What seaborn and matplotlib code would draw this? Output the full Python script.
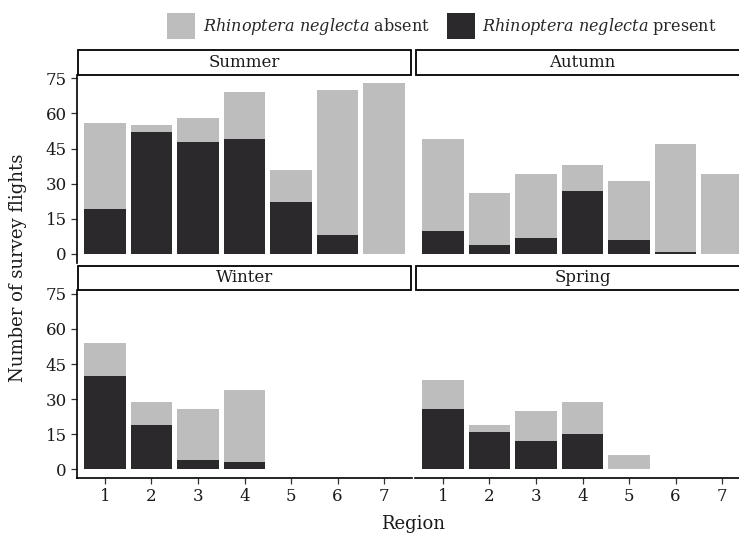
import numpy as np
import pandas as pd
import matplotlib
matplotlib.use("Agg")
import matplotlib.pyplot as plt
from matplotlib.patches import Rectangle, Patch
import seaborn as sns

# Survey flights per region and season
regions = [1, 2, 3, 4, 5, 6, 7]
seasons = ["Summer", "Autumn", "Winter", "Spring"]
total_flights = {
    "Summer": [56, 55, 58, 69, 36, 70, 73],
    "Autumn": [49, 26, 34, 38, 31, 47, 34],
    "Winter": [54, 29, 26, 34, 0, 0, 0],
    "Spring": [38, 19, 25, 29, 6, 0, 0],
}
present_flights = {
    "Summer": [19, 52, 48, 49, 22, 8, 0],
    "Autumn": [10, 4, 7, 27, 6, 1, 0],
    "Winter": [40, 19, 4, 3, 0, 0, 0],
    "Spring": [26, 16, 12, 15, 0, 0, 0],
}
y_ticks = [0, 15, 30, 45, 60, 75]

rows = []
for s in seasons:
    for r, t, p in zip(regions, total_flights[s], present_flights[s]):
        rows.append({"season": s, "region": r, "total": t, "present": p})
df = pd.DataFrame(rows)

sns.set_theme(style="white")
plt.rcParams["font.family"] = ["DejaVu Serif"]
plt.rcParams["mathtext.fontset"] = "custom"
plt.rcParams["mathtext.it"] = "DejaVu Serif:italic"
plt.rcParams["mathtext.rm"] = "DejaVu Serif"

LIGHT = "#BEBDBE"
DARK = "#2B292C"

W, H = 739, 536
fig = plt.figure(figsize=(W / 100, H / 100), dpi=100)

def fx(px):
    return px / W

def fy(px):
    return 1 - px / H

# panel boxes in pixels: (left, top, right, bottom)
panel_px = {
    "Summer": (77, 74.5, 412, 262.5),
    "Autumn": (415, 74.5, 750, 262.5),
    "Winter": (77, 290, 412, 478),
    "Spring": (415, 290, 750, 478),
}
strip_h = 24

for s in seasons:
    l, t, r, b = panel_px[s]
    ax = fig.add_axes([fx(l), fy(b), fx(r - l), (b - t) / H])
    sub = df[df["season"] == s]
    tot = sub[sub["total"] > 0]
    pre = sub[sub["present"] > 0]
    sns.barplot(data=tot, x="region", y="total", color=LIGHT, saturation=1,
                width=0.9, native_scale=True, errorbar=None, linewidth=0, ax=ax)
    sns.barplot(data=pre, x="region", y="present", color=DARK, saturation=1,
                width=0.9, native_scale=True, errorbar=None, linewidth=0, ax=ax)
    ax.set_xlim(0.4, 7.6)
    ax.set_ylim(-3.65, 76.65)
    ax.set_xlabel("")
    ax.set_ylabel("")
    for sp in ax.spines.values():
        sp.set_visible(False)
    left_col = s in ("Summer", "Winter")
    bottom_row = s in ("Winter", "Spring")
    ax.set_yticks(y_ticks)
    ax.set_xticks(regions)
    ax.tick_params(axis="both", which="both", direction="out", length=4.5,
                   width=0.9, color="#333333", labelsize=12, labelcolor="#1a1a1a", pad=3)
    if left_col:
        ax.spines["left"].set_visible(True)
        ax.spines["left"].set_color("black")
        ax.spines["left"].set_linewidth(1.2)
        ax.tick_params(axis="y", left=True, labelleft=True)
    else:
        ax.tick_params(axis="y", left=False, labelleft=False)
    if bottom_row:
        ax.spines["bottom"].set_visible(True)
        ax.spines["bottom"].set_color("black")
        ax.spines["bottom"].set_linewidth(1.2)
        ax.tick_params(axis="x", bottom=True, labelbottom=True)
    else:
        ax.tick_params(axis="x", bottom=False, labelbottom=False)
    ax.patch.set_alpha(0)

    # facet strip
    rect = Rectangle((fx(l + 0.7), fy(t)), fx(r - l - 1.4), strip_h / H,
                     transform=fig.transFigure, facecolor="white",
                     edgecolor="black", linewidth=1.3)
    fig.add_artist(rect)
    fig.text(fx((l + r) / 2), fy(t - strip_h / 2), s,
             ha="center", va="center", fontsize=12, color="#1a1a1a")

fig.text(fx(413), fy(524), "Region", ha="center", va="center", fontsize=13,
         color="#1a1a1a")
fig.text(fx(18), fy(268), "Number of survey flights", ha="center", va="center",
         rotation=90, fontsize=13, color="#1a1a1a")

handles = [Patch(facecolor=LIGHT, edgecolor="none"),
           Patch(facecolor=DARK, edgecolor="none")]
labels = [r"$\it{Rhinoptera\ neglecta}$ absent",
          r"$\it{Rhinoptera\ neglecta}$ present"]
fig.legend(handles, labels, loc="center", bbox_to_anchor=(fx(442), fy(26)),
           ncol=2, frameon=False, fontsize=11.5, handlelength=1.75,
           handleheight=2.1, handletextpad=0.45, columnspacing=1.1)

fig.savefig("out.png", dpi=100)
